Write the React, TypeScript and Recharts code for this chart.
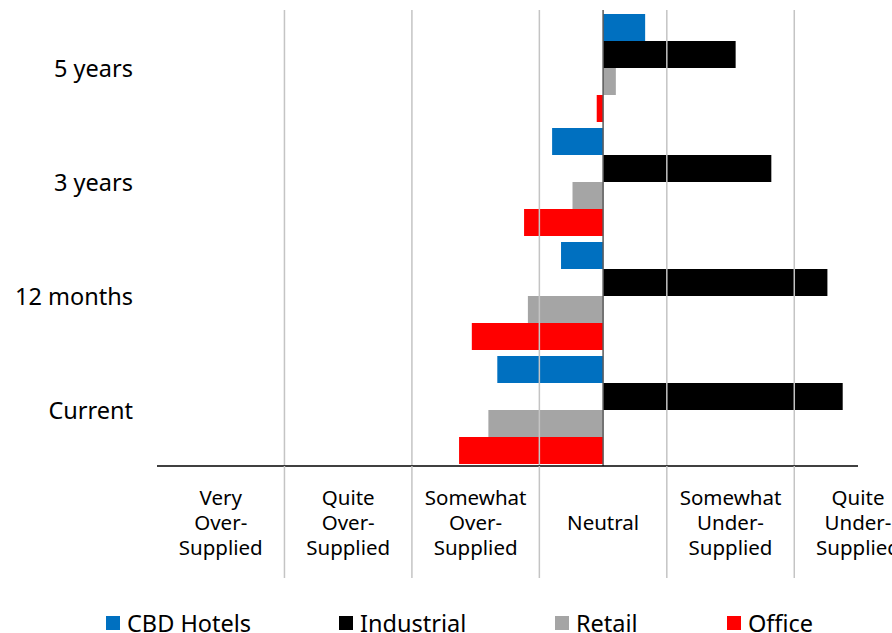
import React from 'react'
import { BarChart, Bar, XAxis, YAxis, ReferenceLine, Legend } from 'recharts'

// categories top to bottom
const categories = ['5 years', '3 years', '12 months', 'Current']

// series values (scale: -3 very over-supplied ... 2 quite under-supplied)
const cbdHotels = [0.33, -0.4, -0.33, -0.83]
const industrial = [1.04, 1.32, 1.76, 1.88]
const retail = [0.1, -0.24, -0.59, -0.9]
const office = [-0.05, -0.62, -1.03, -1.13]

const seriesNames = ['CBD Hotels', 'Industrial', 'Retail', 'Office']
const seriesKeys = ['cbd', 'industrial', 'retail', 'office']
const seriesColors = ['#0070C0', '#000000', '#A5A5A5', '#FF0000']

// x axis labels and the divider lines between them
const tickValues = [-3, -2, -1, 0, 1, 2]
const tickLabels = [
  ['Very', 'Over-', 'Supplied'],
  ['Quite', 'Over-', 'Supplied'],
  ['Somewhat', 'Over-', 'Supplied'],
  ['Neutral'],
  ['Somewhat', 'Under-', 'Supplied'],
  ['Quite', 'Under-', 'Supplied'],
]
const dividers = [-2.5, -1.5, -0.5, 0.5, 1.5]

const data = categories.map((name, i) => ({
  name,
  cbd: cbdHotels[i],
  industrial: industrial[i],
  retail: retail[i],
  office: office[i],
}))

const FONT = '"Noto Sans", sans-serif'
const GRID = '#c4c4c4'

const XTick = (props: any) => {
  const { x, y, payload } = props
  const v = payload.value
  const idx = tickValues.indexOf(v)
  if (idx < 0) {
    // divider continues below the axis between labels
    return <line x1={x} x2={x} y1={y} y2={y + 112} stroke={GRID} strokeWidth={1.5} />
  }
  const lines = tickLabels[idx]
  return (
    <text textAnchor="middle" fontFamily={FONT} fontSize={20.5} fill="#000">
      {lines.map((l, i) => (
        <tspan key={i} x={x} y={y + 64 + (i - (lines.length - 1) / 2) * 25}>
          {l}
        </tspan>
      ))}
    </text>
  )
}

const YTick = (props: any) => {
  const { x, y, payload } = props
  return (
    <text x={x} y={y} dy={10} textAnchor="end" fontFamily={FONT} fontSize={23.5} fill="#000">
      {payload.value}
    </text>
  )
}

const legendLeft = [106, 339, 555, 727]

// legend drawn in series order (recharts would sort it by name)
const renderLegend = () => (
  <div style={{ position: 'relative', width: 892, height: 42 }}>
    {seriesNames.map((name, i) => (
      <div
        key={name}
        style={{
          position: 'absolute',
          left: legendLeft[i],
          top: 22,
          height: 20,
          lineHeight: '20px',
          display: 'flex',
          alignItems: 'center',
          fontFamily: FONT,
          fontSize: 23.5,
          color: '#000',
          whiteSpace: 'nowrap',
        }}
      >
        <span style={{ width: 14, height: 14, background: seriesColors[i], marginRight: 7, display: 'inline-block' }} />
        {name}
      </div>
    ))}
  </div>
)

export default function App() {
  return (
    <div style={{ position: 'absolute', left: 0, top: 0, width: 892, height: 633, background: '#fff' }}>
      <BarChart
        width={892}
        height={633}
        data={data}
        layout="vertical"
        margin={{ top: 10, right: 34, left: 0, bottom: 0 }}
        barCategoryGap={4}
        barGap={0}
      >
        <XAxis
          type="number"
          domain={[-3.5, 2]}
          ticks={[...tickValues, ...dividers].sort((a, b) => a - b)}
          interval={0}
          tickLine={false}
          tickSize={0}
          tickMargin={0}
          height={125}
          axisLine={{ stroke: '#000', strokeWidth: 1.5 }}
          tick={XTick}
        />
        <YAxis
          type="category"
          dataKey="name"
          width={157}
          axisLine={false}
          tickLine={false}
          tickSize={0}
          tickMargin={24}
          tick={YTick}
        />
        {seriesKeys.map((k, i) => (
          <Bar key={k} dataKey={k} name={seriesNames[i]} fill={seriesColors[i]} isAnimationActive={false} />
        ))}
        {dividers.map(d => (
          <ReferenceLine key={d} x={d} stroke={GRID} strokeWidth={1.5} />
        ))}
        <ReferenceLine x={0} stroke="#5a5a5a" strokeWidth={1.5} />
        <Legend
          verticalAlign="bottom"
          height={42}
          content={renderLegend}
          wrapperStyle={{ left: 0, width: 892, bottom: 0 }}
        />
      </BarChart>
    </div>
  )
}
